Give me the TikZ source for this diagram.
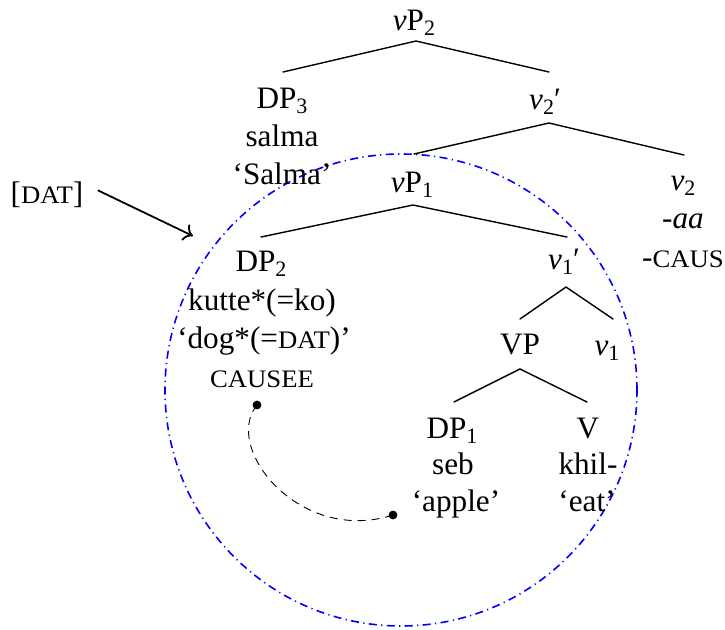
\documentclass[tikz,border=0pt]{standalone}
\usepackage{fontspec}
\setmainfont{Liberation Serif}
\usepackage{graphicx}
\usetikzlibrary{arrows.meta}
\newcommand\mysub[1]{\raisebox{-2.5pt}{\fontsize{11}{11}\selectfont #1}}
\newcommand\fsc[1]{\scalebox{1.06}[1]{\fontsize{12.6}{13}\selectfont #1}}
\newcommand\vv{\textit{v}}
\begin{document}
\begin{tikzpicture}[x=0.5pt,y=-0.5pt,
  lbl/.style={anchor=base,inner sep=0pt,font=\fontsize{15.6}{18}\selectfont},
  branch/.style={line width=0.7pt,line cap=round},
  ring/.style={blue,line width=0.8pt,dash pattern=on 4pt off 2.2pt on 0.6pt off 2.2pt},
  link/.style={line width=0.45pt,dash pattern=on 4pt off 3pt},
  arr/.style={line width=0.9pt,-{To[length=4.5pt,width=9pt]}}]
\useasboundingbox (0,0) rectangle (725,629);
% circle
\draw[ring] (401,390) circle [radius=118pt];
% labels
\node[lbl] (vPtwo) at (414,30) {\vv P\mysub{2}};
\node[lbl] (DPthree) at (282,108) {DP\mysub{3}};
\node[lbl] (salma) at (282,146) {salma};
\node[lbl] (Salmagl) at (282,184) {‘Salma’};
\node[lbl] (vtwobar) at (545,109) {\vv\mysub{2}′};
\node[lbl] (vPone) at (412,192) {\vv P\mysub{1}};
\node[lbl] (vtwo) at (683,190) {\vv\mysub{2}};
\node[lbl] (aa) at (683,228) {\textit{-aa}};
\node[lbl] (caus) at (683,267) {-\fsc{CAUS}};
\node[lbl] (DPtwo) at (261,271) {DP\mysub{2}};
\node[lbl] (kutte) at (262,310) {kutte*(=ko)};
\node[lbl] (dog) at (264,348) {‘dog*(=\fsc{DAT})’};
\node[lbl] (causee) at (262,387) {\fsc{CAUSEE}};
\node[lbl] (vonebar) at (564,269) {\vv\mysub{1}′};
\node[lbl] (VP) at (520,354) {VP};
\node[lbl] (vone) at (607,355) {\vv\mysub{1}};
\node[lbl] (DPone) at (452,438) {DP\mysub{1}};
\node[lbl] (seb) at (453,474) {seb};
\node[lbl] (apple) at (456,511) {‘apple’};
\node[lbl] (V) at (588,438) {V};
\node[lbl] (khil) at (588,474) {khil-};
\node[lbl] (eat) at (587,511) {‘eat’};
\node[lbl] (dat) at (47,203) {[\fsc{DAT}]};
% branch points
\coordinate (vPtwo-b) at (416,41);
\coordinate (DPthree-t) at (283,72);
\coordinate (vtwobar-t) at (549,72);
\coordinate (vtwobar-b) at (549,123);
\coordinate (vPone-t) at (414,154);
\coordinate (vtwo-t) at (684,155);
\coordinate (vPone-b) at (413,205);
\coordinate (DPtwo-t) at (261,237);
\coordinate (vonebar-t) at (567,237);
\coordinate (vonebar-b) at (566,287);
\coordinate (VP-t) at (520,319);
\coordinate (vone-t) at (613,319);
\coordinate (VP-b) at (520,369);
\coordinate (DPone-t) at (454,402);
\coordinate (V-t) at (587,402);
\draw[branch] (DPthree-t) -- (vPtwo-b) -- (vtwobar-t);
\draw[branch] (vPone-t) -- (vtwobar-b) -- (vtwo-t);
\draw[branch] (DPtwo-t) -- (vPone-b) -- (vonebar-t);
\draw[branch] (VP-t) -- (vonebar-b) -- (vone-t);
\draw[branch] (DPone-t) -- (VP-b) -- (V-t);
% dashed link
\coordinate (dotA) at (257,405);
\coordinate (dotB) at (393,515);
\draw[link] (dotA) .. controls (222,448) and (300,545) .. (dotB);
\fill (dotA) circle [radius=2.2pt];
\fill (dotB) circle [radius=2.2pt];
% arrow
\coordinate (tip) at (193,236);
\draw[arr] ([xshift=7pt,yshift=2pt]dat.east) -- (tip);
\end{tikzpicture}
\end{document}
